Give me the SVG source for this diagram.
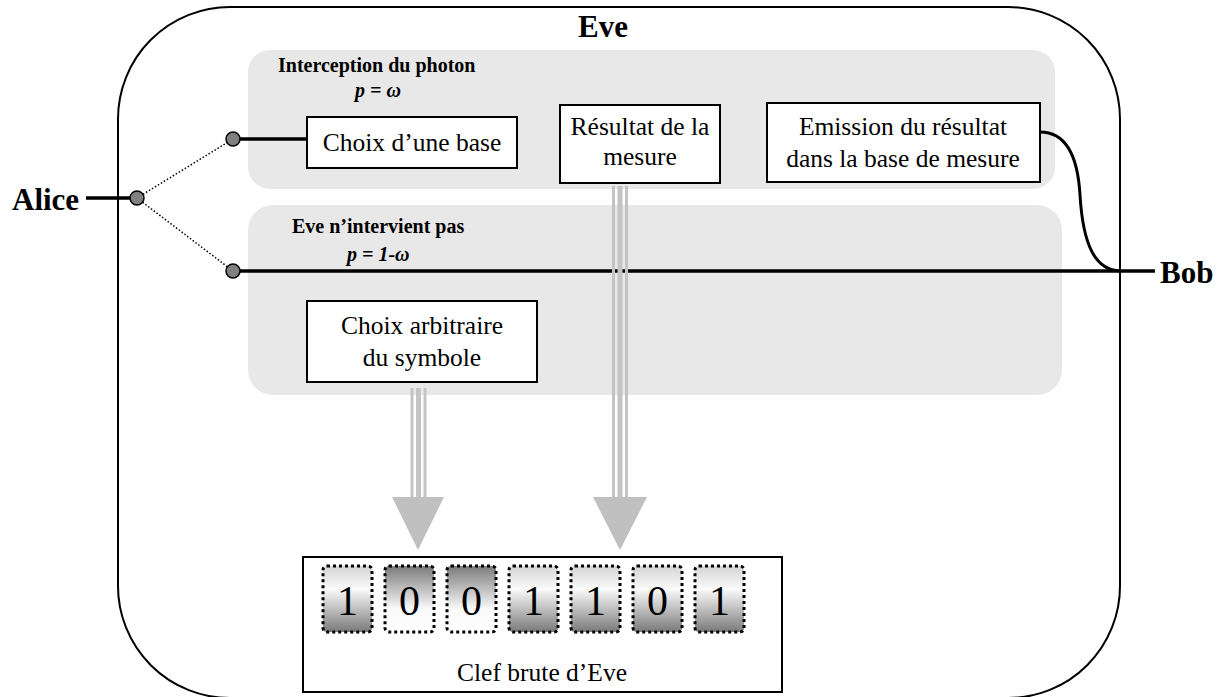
<svg xmlns="http://www.w3.org/2000/svg" width="1227" height="697" viewBox="0 0 1227 697">
<defs>
<linearGradient id="gOne" x1="0" y1="0" x2="0" y2="1">
<stop offset="0" stop-color="#d4d4d4"/>
<stop offset="0.35" stop-color="#fafafa"/>
<stop offset="1" stop-color="#7a7a7a"/>
</linearGradient>
<linearGradient id="gZero" x1="0" y1="0" x2="0" y2="1">
<stop offset="0" stop-color="#7a7a7a"/>
<stop offset="0.65" stop-color="#fafafa"/>
<stop offset="1" stop-color="#ffffff"/>
</linearGradient>
<style>
.serif{font-family:"Liberation Serif","Times New Roman",serif;fill:#000}
.big{font-size:31px;font-weight:bold}
.sub{font-size:20px;font-weight:bold}
.lab{font-size:25.5px}
.box{fill:#fff;stroke:#000;stroke-width:2}
.panel{fill:#e8e8e8}
.cell{stroke:#000;stroke-width:3;stroke-dasharray:3 3}
.dig{font-size:42px}
.shaft{stroke:#c4c4c4;fill:none}
.head{fill:#c0c0c0}
.dot{fill:#808080;stroke:#000;stroke-width:1.5}
</style>
</defs>

<g id="frame">
<rect x="118" y="7" width="1002" height="691" rx="112" ry="112" fill="#fff" stroke="#000" stroke-width="2"/>
<text class="serif big" x="603" y="37" text-anchor="middle">Eve</text>
</g>

<g id="panel-interception">
<rect class="panel" x="248" y="50" width="807" height="139" rx="22"/>
<text class="serif sub" x="278" y="72">Interception du photon</text>
<text class="serif sub" x="355" y="97" font-style="italic">p = ω</text>
</g>

<g id="panel-no-intervention">
<rect class="panel" x="248" y="205" width="814" height="190" rx="25"/>
<text class="serif sub" x="292" y="233">Eve n’intervient pas</text>
<text class="serif sub" x="347" y="261" font-style="italic">p = 1-ω</text>
</g>

<g id="connectors">
<line x1="86" y1="198" x2="137" y2="198" stroke="#000" stroke-width="3.5"/>
<line x1="137" y1="198" x2="233" y2="139" stroke="#000" stroke-width="1.5" stroke-dasharray="1.5 2"/>
<line x1="137" y1="198" x2="233" y2="271" stroke="#000" stroke-width="1.5" stroke-dasharray="1.5 2"/>
<line x1="233" y1="139" x2="307" y2="139" stroke="#000" stroke-width="3.5"/>
<line x1="233" y1="271" x2="1155" y2="271" stroke="#000" stroke-width="3.5"/>
<path d="M1040,132 C1068,132 1078,160 1080,195 C1083,245 1095,270 1120,271" fill="none" stroke="#000" stroke-width="3"/>
<g id="arrow-left">
<line class="shaft" x1="412" y1="388" x2="412" y2="498" stroke-width="3"/>
<line class="shaft" x1="418.5" y1="388" x2="418.5" y2="498" stroke-width="5"/>
<line class="shaft" x1="425" y1="388" x2="425" y2="498" stroke-width="3"/>
<polygon class="head" points="392,497 444,497 418,550"/>
</g>
<g id="arrow-right">
<line class="shaft" x1="613.5" y1="186" x2="613.5" y2="498" stroke-width="3"/>
<line class="shaft" x1="620" y1="186" x2="620" y2="498" stroke-width="5"/>
<line class="shaft" x1="626.5" y1="186" x2="626.5" y2="498" stroke-width="3"/>
<polygon class="head" points="593,497 647,497 620,550"/>
</g>
</g>

<g id="alice">
<text class="serif big" x="12" y="210">Alice</text>
<circle class="dot" cx="137" cy="198" r="7"/>
</g>
<g id="branch-top"><circle class="dot" cx="233" cy="139" r="7"/></g>
<g id="branch-bottom"><circle class="dot" cx="233" cy="271" r="7"/></g>

<g id="bob">
<text class="serif big" x="1160" y="283">Bob</text>
</g>

<g id="choix-base">
<rect class="box" x="307" y="117" width="210" height="51"/>
<text class="serif lab" x="412" y="151" text-anchor="middle">Choix d’une base</text>
</g>

<g id="resultat">
<rect class="box" x="560" y="105" width="160" height="78"/>
<text class="serif lab" x="640" y="135" text-anchor="middle">Résultat de la</text>
<text class="serif lab" x="640" y="165" text-anchor="middle">mesure</text>
</g>

<g id="emission">
<rect class="box" x="767" y="103" width="273" height="79"/>
<text class="serif lab" x="903" y="135" text-anchor="middle">Emission du résultat</text>
<text class="serif lab" x="903" y="167" text-anchor="middle">dans la base de mesure</text>
</g>

<g id="choix-arbitraire">
<rect class="box" x="307" y="301" width="230" height="81"/>
<text class="serif lab" x="422" y="334" text-anchor="middle">Choix arbitraire</text>
<text class="serif lab" x="422" y="366" text-anchor="middle">du symbole</text>
</g>

<g id="clef">
<rect class="box" x="303" y="557" width="479" height="135"/>
<rect class="cell" x="323" y="566" width="49" height="66" rx="4" fill="url(#gOne)"/>
<rect class="cell" x="385" y="566" width="49" height="66" rx="4" fill="url(#gZero)"/>
<rect class="cell" x="447" y="566" width="49" height="66" rx="4" fill="url(#gZero)"/>
<rect class="cell" x="509" y="566" width="49" height="66" rx="4" fill="url(#gOne)"/>
<rect class="cell" x="571" y="566" width="49" height="66" rx="4" fill="url(#gOne)"/>
<rect class="cell" x="633" y="566" width="49" height="66" rx="4" fill="url(#gOne)"/>
<rect class="cell" x="695" y="566" width="49" height="66" rx="4" fill="url(#gOne)"/>
<text class="serif dig" x="347.5" y="615" text-anchor="middle">1</text>
<text class="serif dig" x="409.5" y="615" text-anchor="middle">0</text>
<text class="serif dig" x="471.5" y="615" text-anchor="middle">0</text>
<text class="serif dig" x="533.5" y="615" text-anchor="middle">1</text>
<text class="serif dig" x="595.5" y="615" text-anchor="middle">1</text>
<text class="serif dig" x="657.5" y="615" text-anchor="middle">0</text>
<text class="serif dig" x="719.5" y="615" text-anchor="middle">1</text>
<text class="serif lab" x="542" y="681" text-anchor="middle">Clef brute d’Eve</text>
</g>
</svg>
